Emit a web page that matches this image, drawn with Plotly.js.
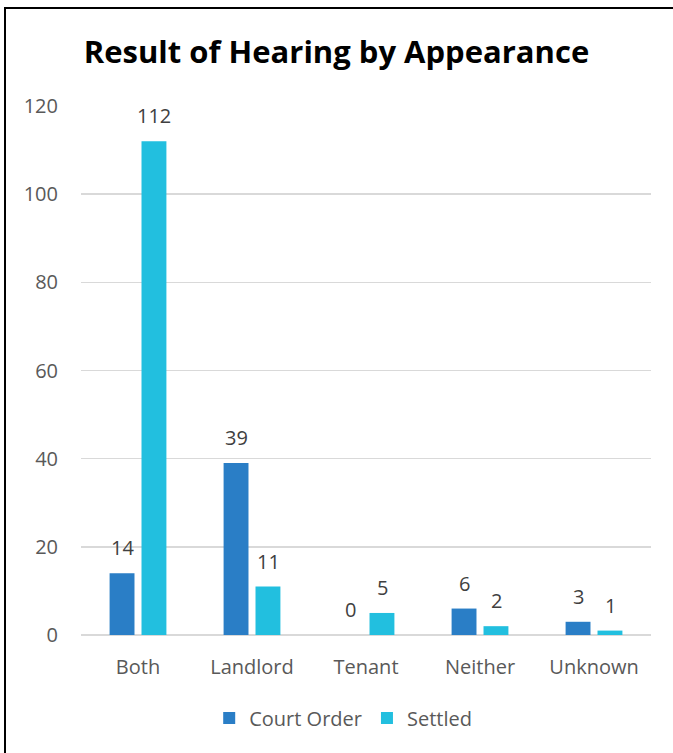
<!DOCTYPE html>
<html>
<head>
<meta charset="utf-8">
<script src="https://cdn.plot.ly/plotly-3.0.1.min.js"></script>
<style>
  html, body { margin: 0; padding: 0; background: #fff; }
  #wrap { position: relative; width: 673px; height: 753px; overflow: hidden; }
  #frame { position: absolute; left: 4px; top: 7px; width: 700px; height: 800px;
           border-top: 2px solid #000; border-left: 2px solid #000; pointer-events: none; }
  #chart { position: absolute; left: 0; top: 0; width: 673px; height: 753px; }
</style>
</head>
<body>
<div id="wrap">
  <div id="chart"></div>
  <div id="frame"></div>
</div>
<script>
const categories = ["Both", "Landlord", "Tenant", "Neither", "Unknown"];
const courtOrder = [14, 39, 0, 6, 3];
const settled = [112, 11, 5, 2, 1];
const yTicks = [0, 20, 40, 60, 80, 100, 120];

const seriesNames = ["Court Order", "Settled"];
const seriesColors = ["#2A7EC6", "#22BFDF"];
const seriesValues = [courtOrder, settled];

const labelFont = { family: "Open Sans, Noto Sans, sans-serif", size: 20, color: "#404040" };

const traces = seriesValues.map((vals, i) => ({
  type: "bar", name: seriesNames[i], x: categories, y: vals,
  marker: { color: seriesColors[i] }, hoverinfo: "skip"
}));

// value labels above each bar, shifted left/right to sit over its bar in the group
const barShift = 16;
const annotations = [];
seriesValues.forEach((vals, i) => {
  vals.forEach((v, j) => {
    annotations.push({
      xref: "x", yref: "y", x: categories[j], y: v,
      text: String(v), showarrow: false,
      xshift: i === 0 ? -barShift : barShift,
      yanchor: "bottom", yshift: 10,
      font: labelFont
    });
  });
});

const layout = {
  width: 673, height: 753,
  margin: { l: 81, r: 22, t: 106, b: 118 },
  paper_bgcolor: "#ffffff", plot_bgcolor: "#ffffff",
  title: {
    text: "<b>Result of Hearing by Appearance</b>",
    font: { family: "Open Sans, sans-serif", size: 31, color: "#000" },
    x: 0.5, xanchor: "center", y: 0.931, yanchor: "middle"
  },
  barmode: "group", bargap: 0.44, bargroupgap: 0.22,
  xaxis: {
    type: "category", showgrid: false, zeroline: false, showline: false,
    ticks: "", ticklabelstandoff: 18,
    tickfont: { family: "Open Sans, sans-serif", size: 20, color: "#595959" }
  },
  yaxis: {
    range: [0, 120], tickvals: yTicks, ticktext: yTicks.map(String),
    showgrid: true, gridcolor: "#d9d9d9", gridwidth: 1.5,
    zeroline: true, zerolinecolor: "#d9d9d9", zerolinewidth: 1.5,
    showline: false, ticks: "", ticklabelstandoff: 22,
    tickfont: { family: "Open Sans, sans-serif", size: 20, color: "#595959" }
  },
  annotations: annotations,
  showlegend: true,
  legend: {
    orientation: "h", x: 0.46, xanchor: "center", y: -0.157, yanchor: "middle",
    font: { family: "Open Sans, sans-serif", size: 20, color: "#595959" },
    itemwidth: 30, traceorder: "normal"
  }
};

Plotly.newPlot("chart", traces, layout, { displayModeBar: false, staticPlot: true });
</script>
</body>
</html>
